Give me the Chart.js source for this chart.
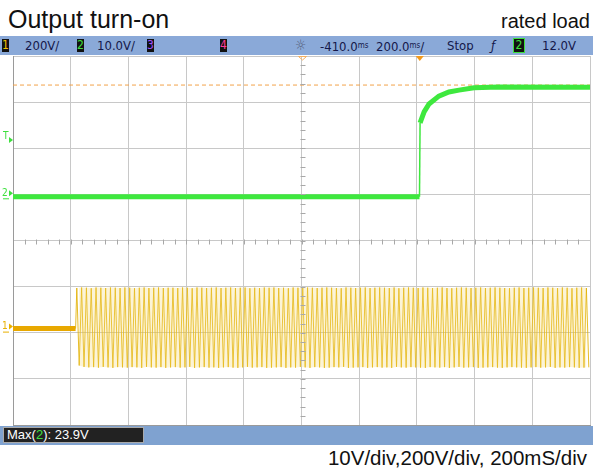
<!DOCTYPE html>
<html><head><meta charset="utf-8">
<script src="https://cdn.jsdelivr.net/npm/chart.js@4/dist/chart.umd.min.js"></script>
<style>
html,body{margin:0;padding:0;background:#fff;}
#wrap{position:relative;width:593px;height:472px;overflow:hidden;font-family:"Liberation Sans",Arial,sans-serif;}
#c{position:absolute;left:0;top:0;}
.t{position:absolute;white-space:nowrap;line-height:1;color:#111;}
#hdr{position:absolute;left:0;top:36px;width:593px;height:19px;background:#8aa9d8;}
#ftr{position:absolute;left:0;top:426px;width:593px;height:19px;background:#7fa2d0;}
.h{position:absolute;top:0;height:19px;line-height:19px;font-family:"DejaVu Sans Condensed","DejaVu Sans",sans-serif;font-stretch:condensed;font-size:13px;color:#14184a;white-space:nowrap;}
.box{position:absolute;top:3px;height:13px;line-height:13px;background:#111;font-family:"DejaVu Sans Condensed","DejaVu Sans",sans-serif;font-size:12px;text-align:center;}
.u{font-size:8px;vertical-align:3px;}
#max{position:absolute;left:3px;top:1px;width:141px;height:16px;background:#222;border:1px solid #aaa;box-sizing:border-box;color:#fff;font-size:13px;line-height:14px;padding-left:3px;}
</style></head>
<body>
<div id="wrap">
  <div class="t" style="left:8px;top:7px;font-size:25px;">Output turn-on</div>
  <div class="t" style="right:3px;top:11px;font-size:20px;">rated load</div>
  <div id="hdr">
    <div class="box" style="left:2px;width:7px;color:#f0c000;">1</div>
    <div class="h" style="left:25px;">200V/</div>
    <div class="box" style="left:77px;width:7px;color:#3de03d;">2</div>
    <div class="h" style="left:97px;">10.0V/</div>
    <div class="box" style="left:147px;width:7px;color:#a050ff;">3</div>
    <div class="box" style="left:220px;width:7px;color:#ff3a9a;">4</div>
    <div class="h" style="left:295px;color:#55607a;font-size:14px;">☼</div>
    <div class="h" style="left:320px;">-410.0<span class="u">ms</span></div>
    <div class="h" style="left:376px;">200.0<span class="u">ms</span>/</div>
    <div class="h" style="left:447px;">Stop</div>
    <div class="h" style="left:491px;font-style:italic;">ƒ</div>
    <div class="box" style="left:513px;width:10px;color:#3de03d;border:1px solid #3de03d;top:2px;">2</div>
    <div class="h" style="left:542px;">12.0V</div>
  </div>
  <div id="ftr"><div id="max">Max(<span style="color:#3de03d">2</span>): 23.9V</div></div>
  <div class="t" style="right:6px;top:448px;font-size:20.5px;">10V/div,200V/div, 200mS/div</div>
  <canvas id="c" width="593" height="472"></canvas>
</div>
<script>
// ---- data (time in ms, relative to trigger; channel values in volts) ----
const timeDiv = 200;          // ms per division
const timeCenter = -410;      // ms at screen centre
const ch2Div = 10;            // V per division (green)
const ch1Div = 200;           // V per division (yellow)

const ch2Time  = [-1410, -1, 1, 15, 32, 66, 101, 136, 188, 274, 590];
const ch2Volts = [-0.3, -0.3, 15.7, 18.1, 19.8, 21.5, 22.4, 22.8, 23.3, 23.5, 23.4];

const ch1PreTime  = [-1410, -1193];
const ch1PreVolts = [0, 0];
const ch1OnStart = -1193;     // ms where AC appears
const ch1Hi = [176,178,177,175,178,177,176,178,177,176,
               178,177,175,177,178,176,177,178,176,177,
               177,176,178,177,175,178,177,176,177,178,
               176,177,178,176,177,178,175,177,176,178,
               177,178,176,177,175,178,177,176,178,177,
               176,177,178,177,176,175,178,177,176,177,
               178,176,177,178,177,176,178,175,177,178,
               177,176,178,177,176,177,178,176,175,177,
               178,177,176,177,178,176,177,178,177,176,
               175,177,178,176,177,178,177,176,178,177,
               176,178,177,175,177,178,176];
const ch1Lo = [-160,-166,-168,-167,-169,-166,-168,-170,-167,-168,
               -169,-167,-168,-170,-166,-168,-169,-167,-170,-168,
               -167,-169,-168,-166,-170,-168,-167,-169,-168,-170,
               -168,-167,-169,-170,-168,-166,-169,-168,-167,-170,
               -169,-168,-167,-170,-168,-169,-166,-168,-170,-167,
               -168,-170,-169,-167,-168,-166,-170,-169,-168,-167,
               -170,-168,-167,-169,-168,-170,-166,-168,-169,-167,
               -168,-169,-170,-167,-168,-169,-167,-170,-168,-166,
               -169,-168,-167,-170,-169,-168,-167,-169,-170,-168,
               -167,-168,-169,-170,-168,-167,-169,-168,-166,-170,
               -168,-169,-167,-168,-170,-169,-168];
const maxCursorVolts = 23.9;
const trigLevel = 12.0;

// ---- build ----
const xMin = timeCenter - 5*timeDiv, xMax = timeCenter + 5*timeDiv;
const ch2Top = 30.2, ch1Top = 1182;
const ch2Pts = ch2Time.map((t,i)=>({x:t,y:ch2Volts[i]}));
const ch1PrePts = ch1PreTime.map((t,i)=>({x:t,y:ch1PreVolts[i]}));
const per = (xMax - ch1OnStart)/ch1Hi.length;
const ch1AcPts = [{x:ch1OnStart,y:0}];
const envHi = [], envLo = [];
ch1Hi.forEach((v,i)=>{
  const th = ch1OnStart+i*per+per*0.25, tl = ch1OnStart+i*per+per*0.75;
  ch1AcPts.push({x:th,y:v});
  ch1AcPts.push({x:tl,y:ch1Lo[i]});
  envHi.push({x:th,y:v}); envLo.push({x:tl,y:ch1Lo[i]});
});
const riseIdx = 2;

const deco = {
  id:'deco',
  afterDraw(chart){
    const c = chart.ctx, xs = chart.scales.x, ys = chart.scales.y, y1 = chart.scales.y1;
    const a = chart.chartArea;
    c.save();
    c.strokeStyle = '#a8a8a8'; c.lineWidth = 1;
    const cx = Math.round(xs.getPixelForValue(timeCenter))+0.5;
    const cy = Math.round((a.top+a.bottom)/2)+0.5;
    const dx = (a.right-a.left)/50, dy = (a.bottom-a.top)/40;
    c.beginPath();
    for(let i=1;i<50;i++){ const x=Math.round(a.left+i*dx)+0.5; c.moveTo(x,cy-2); c.lineTo(x,cy+3); }
    for(let i=1;i<40;i++){ const y=Math.round(a.top+i*dy)+0.5; c.moveTo(cx-2,y); c.lineTo(cx+3,y); }
    c.stroke();
    c.fillStyle = '#f39a1c';
    const tx = xs.getPixelForValue(0);
    c.beginPath(); c.moveTo(tx-4,a.top); c.lineTo(tx+4,a.top); c.lineTo(tx,a.top+5); c.closePath(); c.fill();
    c.strokeStyle = '#f5b060';
    c.beginPath(); c.moveTo(cx-4,a.top+0.5); c.lineTo(cx+4,a.top+0.5); c.lineTo(cx,a.top+4); c.closePath(); c.stroke();
    c.font = '10px "DejaVu Sans Condensed","DejaVu Sans",sans-serif';
    c.textBaseline = 'middle';
    const mark=(txt,col,y)=>{
      c.fillStyle = col; c.fillText(txt,2,y-2);
      c.beginPath(); c.moveTo(9,y-5); c.lineTo(13,y-2); c.lineTo(9,y+1); c.closePath(); c.fill();
      c.fillRect(3,y+3,6,1);
    };
    mark('2','#3de03d',ys.getPixelForValue(0));
    mark('1','#e8b000',y1.getPixelForValue(0));
    const ty = ys.getPixelForValue(trigLevel);
    c.fillStyle='#3de03d'; c.fillText('T',3,ty-4);
    c.beginPath(); c.moveTo(9,ty-3); c.lineTo(13,ty); c.lineTo(9,ty+3); c.closePath(); c.fill();
    c.restore();
  }
};

new Chart(document.getElementById('c'),{
  type:'line',
  data:{datasets:[
    {data:envHi, yAxisID:'y1', borderWidth:0, borderColor:'rgba(0,0,0,0)', pointRadius:0, fill:'+1', backgroundColor:'rgba(245,215,110,0.28)'},
    {data:envLo, yAxisID:'y1', borderWidth:0, borderColor:'rgba(0,0,0,0)', pointRadius:0},
    {data:ch1AcPts, yAxisID:'y1', borderColor:'rgba(226,176,0,0.85)', borderWidth:1, pointRadius:0, tension:0},
    {data:ch1PrePts, yAxisID:'y1', borderColor:'#e8a800', borderWidth:5, pointRadius:0, borderCapStyle:'butt'},
    {data:ch2Pts, yAxisID:'y', borderColor:'#3ee83e', borderWidth:5, pointRadius:0, tension:0.0,
      segment:{borderWidth:ctx=> ctx.p1DataIndex===riseIdx ? 1.5 : 5}},
    {data:[{x:xMin,y:maxCursorVolts},{x:xMax,y:maxCursorVolts}], yAxisID:'y', borderColor:'#f2a24a', borderWidth:1, borderDash:[4,3], pointRadius:0}
  ]},
  options:{
    responsive:false, animation:false, events:[],
    layout:{padding:{left:13,right:3,top:56,bottom:47}},
    plugins:{legend:{display:false},tooltip:{enabled:false},filler:{propagate:false}},
    scales:{
      x:{type:'linear',min:xMin,max:xMax,
        afterBuildTicks:s=>{s.ticks=[];for(let k=0;k<=10;k++)s.ticks.push({value:xMin+k*timeDiv});},
        ticks:{display:false},grid:{color:'#c8c8c8',drawTicks:false},border:{display:true,color:'#9a9a9a'}},
      y:{type:'linear',min:ch2Top-8*ch2Div,max:ch2Top,
        afterBuildTicks:s=>{s.ticks=[];for(let k=0;k<=8;k++)s.ticks.push({value:ch2Top-k*ch2Div});},
        ticks:{display:false},grid:{color:'#c8c8c8',drawTicks:false},border:{display:true,color:'#9a9a9a'}},
      y1:{type:'linear',display:false,min:ch1Top-8*ch1Div,max:ch1Top}
    }
  },
  plugins:[deco]
});
</script>
</body></html>
